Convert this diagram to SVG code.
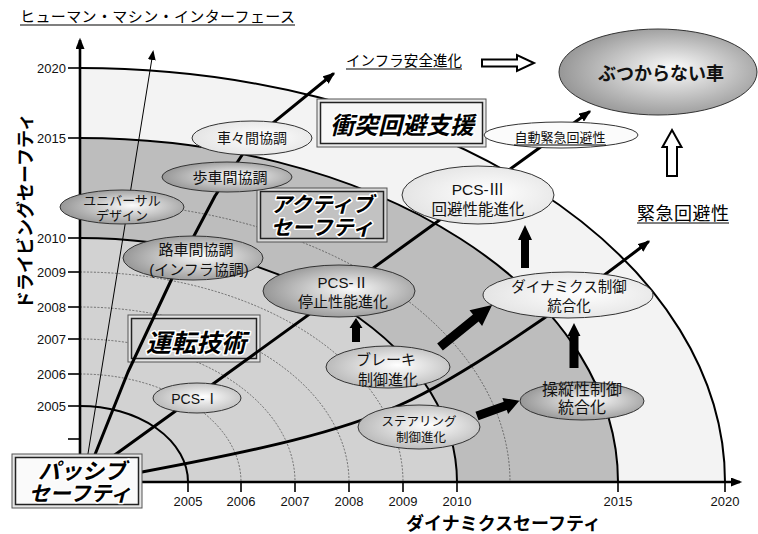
<svg xmlns="http://www.w3.org/2000/svg" width="758" height="534" viewBox="0 0 758 534">
<style>
.jp{font-family:'Noto Sans CJK JP',sans-serif}
.lat{font-family:'Liberation Sans','Noto Sans CJK JP',sans-serif}
.tick{font-family:'Liberation Sans',sans-serif;font-size:13px;fill:#111}
.tl{stroke:#000;stroke-width:1.6}
.nt{font-family:'Liberation Sans','Noto Sans CJK JP',sans-serif;text-anchor:middle;fill:#111}
.bt{font-family:'Noto Sans CJK JP',sans-serif;font-weight:bold;font-style:italic;text-anchor:middle;fill:#000;stroke:#fff;stroke-width:3;paint-order:stroke;stroke-linejoin:round}
.ell{stroke:#333;stroke-width:1}
.tarc{fill:none;stroke:#444;stroke-width:0.7;stroke-dasharray:2 1.5}
.arc{fill:none;stroke:#000;stroke-width:2}
.conn{fill:none;stroke:#000;stroke-width:3;stroke-linejoin:round;stroke-linecap:round}
.ul{stroke:#000;stroke-width:1.2}
.bo{stroke:#555;stroke-width:1}
.bi{stroke:#222;stroke-width:1.5}
.blk{fill:#000}
.hol{fill:#fff;stroke:#000;stroke-width:2;stroke-linejoin:miter}
</style>
<defs>
<marker id="ah" viewBox="0 0 10 8" refX="8" refY="4" markerWidth="4" markerHeight="3.2" orient="auto" markerUnits="strokeWidth">
<path d="M0,0 L10,4 L0,8 z" fill="#000"/>
</marker>
<marker id="ahs" viewBox="0 0 10 8" refX="8" refY="4" markerWidth="10" markerHeight="8" orient="auto" markerUnits="userSpaceOnUse">
<path d="M0,0 L10,4 L0,8 z" fill="#000"/>
</marker>
<marker id="ahx" viewBox="0 0 10 8" refX="8" refY="4" markerWidth="12" markerHeight="9" orient="auto" markerUnits="userSpaceOnUse">
<path d="M0,0 L10,4 L0,8 z" fill="#000"/>
</marker>
<radialGradient id="gDark" cx="0.55" cy="0.5" r="0.6" fx="0.58" fy="0.45">
<stop offset="0" stop-color="#fbfbfb"/><stop offset="1" stop-color="#8e8e8e"/>
</radialGradient>
<radialGradient id="gMid" cx="0.55" cy="0.5" r="0.6" fx="0.58" fy="0.45">
<stop offset="0" stop-color="#ffffff"/><stop offset="1" stop-color="#b4b4b4"/>
</radialGradient>
<radialGradient id="gLight" cx="0.55" cy="0.5" r="0.6" fx="0.58" fy="0.45">
<stop offset="0" stop-color="#ffffff"/><stop offset="1" stop-color="#e2e2e2"/>
</radialGradient>
</defs>

<rect width="758" height="534" fill="#fff"/>

<g id="bands">
<path d="M80,482 L80,68 A645,414 0 0 1 725,482 Z" fill="#f3f3f3"/>
<path d="M80,482 L80,138 A538,344 0 0 1 618,482 Z" fill="#bdbdbd"/>
<path d="M80,482 L80,238 A377,244 0 0 1 457,482 Z" fill="#d2d2d2"/>
</g>

<g id="year-arcs">
<path class="tarc" d="M80,374 A161,108 0 0 1 241,482"/>
<path class="tarc" d="M80,339 A215,143 0 0 1 295,482"/>
<path class="tarc" d="M80,307 A269,175 0 0 1 349,482"/>
<path class="tarc" d="M80,272 A323,210 0 0 1 403,482"/>
<path class="tarc" d="M80,202 A430,280 0 0 1 510,482"/>
<path class="arc" d="M80,406 A108,76 0 0 1 188,482"/>
<path class="arc" d="M80,238 A377,244 0 0 1 457,482"/>
<path class="arc" d="M80,138 A538,344 0 0 1 618,482"/>
<path class="arc" d="M80,68 A645,414 0 0 1 725,482"/>
</g>

<g id="axes">
<line x1="80" y1="483" x2="80" y2="40" stroke="#000" stroke-width="2.6" marker-end="url(#ahx)"/>
<line x1="79" y1="482" x2="740" y2="482" stroke="#000" stroke-width="2.6" marker-end="url(#ahx)"/>
<line class="tl" x1="68" y1="68" x2="80" y2="68"/>
<line class="tl" x1="68" y1="138" x2="80" y2="138"/>
<line class="tl" x1="68" y1="238" x2="80" y2="238"/>
<line class="tl" x1="68" y1="272" x2="80" y2="272"/>
<line class="tl" x1="68" y1="307" x2="80" y2="307"/>
<line class="tl" x1="68" y1="339" x2="80" y2="339"/>
<line class="tl" x1="68" y1="374" x2="80" y2="374"/>
<line class="tl" x1="68" y1="406" x2="80" y2="406"/>
<line class="tl" x1="68" y1="439" x2="80" y2="439"/>
<line class="tl" x1="188" y1="482" x2="188" y2="492"/>
<line class="tl" x1="241" y1="482" x2="241" y2="492"/>
<line class="tl" x1="295" y1="482" x2="295" y2="492"/>
<line class="tl" x1="349" y1="482" x2="349" y2="492"/>
<line class="tl" x1="403" y1="482" x2="403" y2="492"/>
<line class="tl" x1="457" y1="482" x2="457" y2="492"/>
<line class="tl" x1="618" y1="482" x2="618" y2="492"/>
<line class="tl" x1="725" y1="482" x2="725" y2="492"/>
<g class="tick" text-anchor="end">
<text x="66" y="73">2020</text>
<text x="66" y="143">2015</text>
<text x="66" y="243">2010</text>
<text x="66" y="277">2009</text>
<text x="66" y="312">2008</text>
<text x="66" y="344">2007</text>
<text x="66" y="379">2006</text>
<text x="66" y="411">2005</text>
</g>
<g class="tick" text-anchor="middle">
<text x="188" y="505.5">2005</text>
<text x="241" y="505.5">2006</text>
<text x="295" y="505.5">2007</text>
<text x="349" y="505.5">2008</text>
<text x="403" y="505.5">2009</text>
<text x="457" y="505.5">2010</text>
<text x="618" y="505.5">2015</text>
<text x="725" y="505.5">2020</text>
</g>
<text class="jp" transform="translate(32,211) rotate(-90)" text-anchor="middle" font-size="18" font-weight="bold">ドライビングセーフティ</text>
<text class="jp" x="503.5" y="529.5" text-anchor="middle" font-size="18" font-weight="bold">ダイナミクスセーフティ</text>
</g>

<g id="box-shototsu">
<rect class="bo" x="317" y="99" width="169" height="48" fill="#e9e9e9"/>
<rect class="bi" x="320.5" y="102.5" width="162" height="41" fill="#f7f7f7"/>
<text class="bt" x="402" y="134" font-size="24">衝突回避支援</text>
</g>
<g id="box-active">
<rect class="bo" x="257" y="188" width="130" height="54" fill="#d8d8d8"/>
<rect class="bi" x="260.5" y="191.5" width="123" height="47" fill="#c2c2c2"/>
<text class="bt" font-size="21"><tspan x="322" y="212">アクティブ</tspan><tspan x="322" y="235">セーフティ</tspan></text>
</g>
<g id="box-unten">
<rect class="bo" x="128" y="315" width="132" height="47" fill="#e4e4e4"/>
<rect class="bi" x="131.5" y="318.5" width="125" height="40" fill="#d2d2d2"/>
</g>

<g id="connectors">
<path d="M86,466 L153,52" fill="none" stroke="#000" stroke-width="1" marker-end="url(#ahs)"/>
<path class="conn" d="M92,462 L128,372 L175,272 L215,196 L252,140 L333,74" marker-end="url(#ah)"/>
<path class="conn" d="M105,462 L589,112" marker-end="url(#ah)"/>
<path class="conn" d="M142,472 C260,450 340,432 400,405 S560,310 648,242" marker-end="url(#ah)"/>
</g>

<g id="label-unten">
<text class="bt" x="196" y="352" font-size="25">運転技術</text>
</g>

<g id="node-universal">
<ellipse class="ell" cx="122" cy="207" rx="62" ry="17" fill="url(#gDark)"/>
<text class="nt jp" font-size="13"><tspan x="122" y="205">ユニバーサル</tspan><tspan x="122" y="220">デザイン</tspan></text>
</g>
<g id="node-shasha">
<ellipse class="ell" cx="252" cy="138" rx="60" ry="17" fill="url(#gLight)"/>
<text class="nt jp" x="252" y="143" font-size="14">車々間協調</text>
</g>
<g id="node-hosha">
<ellipse class="ell" cx="227" cy="177" rx="65" ry="15" fill="url(#gDark)"/>
<text class="nt jp" x="230" y="183" font-size="15">歩車間協調</text>
</g>
<g id="node-rosha">
<ellipse class="ell" cx="193" cy="258" rx="70" ry="22" fill="url(#gDark)"/>
<text class="nt jp" font-size="15"><tspan x="196" y="255">路車間協調</tspan><tspan x="199" y="275">(インフラ協調)</tspan></text>
</g>
<g id="node-pcs2">
<ellipse class="ell" cx="339" cy="291" rx="76" ry="26" fill="url(#gDark)"/>
<text class="nt" font-size="15"><tspan x="343" y="288">PCS-Ⅱ</tspan><tspan x="343" y="307">停止性能進化</tspan></text>
</g>
<g id="node-brake">
<ellipse class="ell" cx="388" cy="367" rx="62" ry="21" fill="url(#gMid)"/>
<text class="nt jp" font-size="15"><tspan x="386" y="365">ブレーキ</tspan><tspan x="388" y="385">制御進化</tspan></text>
</g>
<g id="node-steering">
<ellipse class="ell" cx="419" cy="427" rx="61" ry="22" fill="url(#gMid)"/>
<text class="nt jp" font-size="12.5"><tspan x="419" y="426">ステアリング</tspan><tspan x="421" y="442">制御進化</tspan></text>
</g>
<g id="node-soju">
<ellipse class="ell" cx="582" cy="401" rx="62" ry="19" fill="url(#gDark)"/>
<text class="nt jp" font-size="16"><tspan x="582" y="395">操縦性制御</tspan><tspan x="582" y="413">統合化</tspan></text>
</g>
<g id="node-dynamics">
<ellipse class="ell" cx="568" cy="295" rx="85" ry="23" fill="url(#gLight)"/>
<text class="nt jp" font-size="14.5"><tspan x="569" y="292">ダイナミクス制御</tspan><tspan x="569" y="311">統合化</tspan></text>
</g>
<g id="node-pcs3">
<ellipse class="ell" cx="478" cy="195" rx="76" ry="29" fill="url(#gLight)"/>
<text class="nt" font-size="15.5"><tspan x="478" y="195">PCS-Ⅲ</tspan><tspan x="478" y="215">回避性能進化</tspan></text>
</g>
<g id="node-pcs1">
<ellipse class="ell" cx="197" cy="398" rx="44" ry="15" fill="url(#gMid)"/>
<text class="nt" x="195" y="404" font-size="14">PCS-Ⅰ</text>
</g>
<g id="node-jido">
<ellipse class="ell" cx="561" cy="135" rx="77" ry="13" fill="#fbfbfb"/>
<text class="nt jp" x="560" y="142" font-size="13">自動緊急回避性</text>
<line class="ul" x1="514" y1="145" x2="606" y2="145"/>
</g>
<g id="node-butsukaranai">
<ellipse class="ell" cx="658" cy="72" rx="99" ry="43" fill="url(#gDark)"/>
<text class="nt jp" x="661" y="80" font-size="18" font-weight="bold">ぶつからない車</text>
</g>

<g id="box-passive">
<rect class="bo" x="12" y="454" width="130" height="54" fill="#e6e6e6"/>
<rect class="bi" x="15.5" y="457.5" width="123" height="47" fill="#fafafa"/>
<text class="bt" font-size="21"><tspan x="82" y="479" font-size="22">パッシブ</tspan><tspan x="80" y="501">セーフティ</tspan></text>
</g>

<g id="block-arrows">
<polygon class="blk" points="356,318 362.5,328 360,328 360,342 352,342 352,328 349.5,328"/>
<polygon class="blk" points="0,-4.5 46,-4.5 46,-10 67,0 46,10 46,4.5 0,4.5" transform="translate(440,347) rotate(-38.9)"/>
<polygon class="blk" points="525,225 532,240 529,240 529,268 521,268 521,240 518,240"/>
<polygon class="blk" points="574,323 580.5,336 578.5,336 578.5,368 569.5,368 569.5,336 567.5,336"/>
<polygon class="blk" points="0,-4.5 30,-4.5 30,-8.5 45,0 30,8.5 30,4.5 0,4.5" transform="translate(477,416) rotate(-19.7)"/>
<polygon class="hol" points="482,59.5 517,59.5 517,55 534,63 517,71 517,66.5 482,66.5"/>
<polygon class="hol" points="672,130 681.5,147 677,147 677,176 667,176 667,147 662.5,147"/>
</g>

<g id="labels">
<text class="jp" x="20" y="22" font-size="15" textLength="275">ヒューマン・マシン・インターフェース</text>
<line class="ul" x1="20" y1="25" x2="295" y2="25"/>
<text class="jp" x="346" y="66" font-size="14.5" textLength="116">インフラ安全進化</text>
<line class="ul" x1="346" y1="69" x2="462" y2="69"/>
<text class="jp" x="637" y="220" font-size="18" textLength="92">緊急回避性</text>
<line class="ul" x1="637" y1="223" x2="729" y2="223"/>
</g>
</svg>
